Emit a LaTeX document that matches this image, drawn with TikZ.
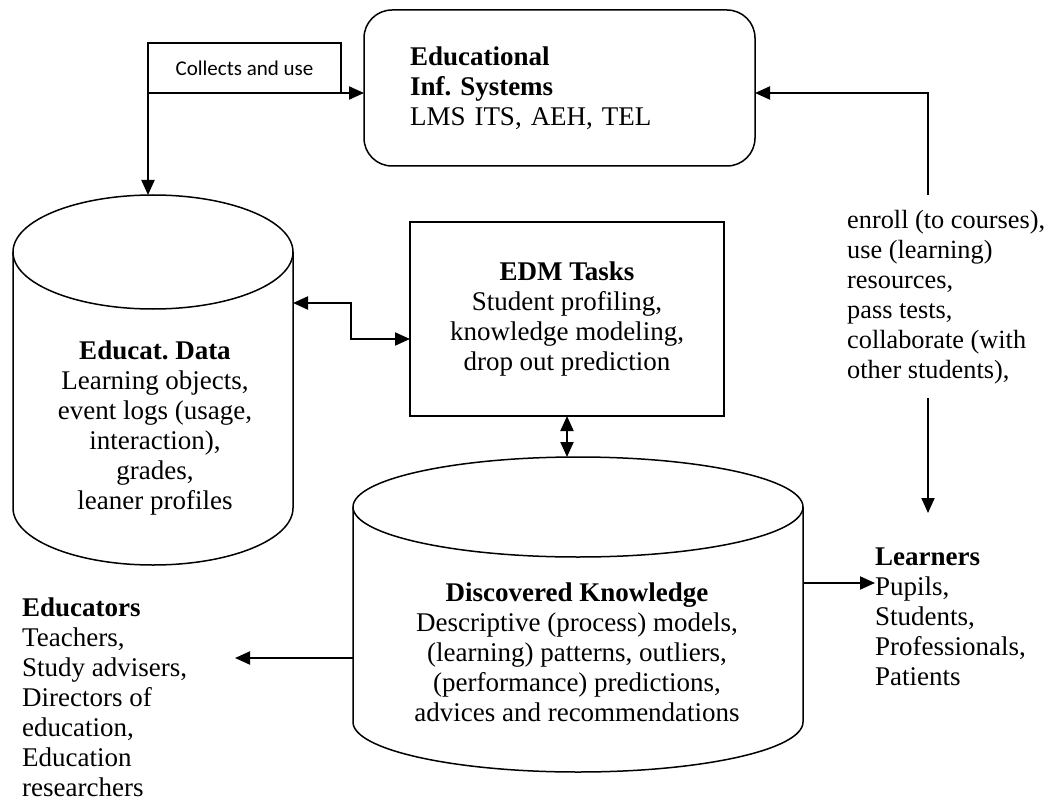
\documentclass[tikz,border=0pt]{standalone}
\usepackage{fontspec}
\setmainfont{Liberation Serif}
\newfontfamily\calibfont{Carlito}
\usetikzlibrary{arrows.meta}
\frenchspacing

\begin{document}
\begin{tikzpicture}[x=1pt,y=-1pt]
		\useasboundingbox (0,0) rectangle (1051,802);
		\begin{scope}[every node/.style={draw,line width=1.5pt,outer sep=0pt,inner sep=0pt,
		              font=\fontsize{27}{30}\selectfont}]
		    \node[minimum width=193pt,minimum height=50pt,
		          font=\calibfont\fontsize{21}{25}\selectfont] (col) at (244.5,68) {Collects and use};
		    \node[rounded corners=28pt,minimum width=391pt,minimum height=156pt,
		          text width=299pt,align=left] (eis) at (559.5,88)
		          {\textbf{Educational}\\\textbf{Inf. Systems}\\LMS ITS, AEH, TEL};
		    \node[minimum width=314pt,minimum height=194pt,align=center] (edm) at (567,319)
		          {\textbf{EDM Tasks}\\Student profiling,\\knowledge modeling,\\drop out prediction};
		\end{scope}

		% the two data stores
		\begin{scope}[line width=1.5pt]
		    \draw (153,252) ellipse[x radius=140,y radius=57];
		    \draw (13,252) -- (13,508) arc[start angle=180,end angle=0,x radius=140,y radius=57] -- (293,252);
		    \draw (578,507) ellipse[x radius=225,y radius=50];
		    \draw (353,507) -- (353,722) arc[start angle=180,end angle=0,x radius=225,y radius=50] -- (803,507);
		\end{scope}
		\coordinate (datatop) at (153,195);
		\coordinate (dataeast) at (293,303);
		\coordinate (knowtop) at (578,457);
		\coordinate (knowwest) at (353,658);
		\coordinate (knoweast) at (803,583);

		\begin{scope}[every node/.style={inner sep=0pt,font=\fontsize{27}{30}\selectfont}]
		    \node[align=center] (datatext) at (155,428)
		          {\textbf{Educat. Data}\\Learning objects,\\event logs (usage,\\interaction),\\grades,\\leaner profiles};
		    \node[align=center] (knowtext) at (577,652)
		          {\textbf{Discovered Knowledge}\\Descriptive (process) models,\\(learning) patterns, outliers,\\(performance) predictions,\\advices and recommendations};
		    \node[align=left,anchor=west,font=\fontsize{26.3}{30}\selectfont] (act) at (847,297)
		          {enroll (to courses),\\use (learning)\\resources,\\pass tests,\\collaborate (with\\other students),};
		    \node[align=left,anchor=west] (edu) at (22,697)
		          {\textbf{Educators}\\Teachers,\\Study advisers,\\Directors of\\education,\\Education\\researchers};
		    \node[align=left,anchor=west] (lrn) at (875,617)
		          {\textbf{Learners}\\Pupils,\\Students,\\Professionals,\\Patients};
		\end{scope}

		\begin{scope}[>={Triangle[length=15pt,width=13pt]},line width=2pt]
		    \coordinate (usetop) at (928,195);
		    \coordinate (usebot) at (928,398);
		    \coordinate (lrnin) at (928,513);
		    \coordinate (eduin) at (235,658);
		    \draw[->] (col.south west) -- (col.south west -| eis.west);
		    \draw[->] (col.south west) -- (col.south west |- datatop);
		    \draw[->] (usetop) |- (eis.east |- col.south);
		    \path (usebot) edge[->] (lrnin);
		    \draw[<->] (dataeast) -- ++(58,0) |- ([yshift=-20pt]edm.west);
		    \path (edm.south) edge[<->] (edm.south |- knowtop);
		    \path (knowwest) edge[->] (eduin);
		    \path (knoweast) edge[->] (knoweast -| lrn.west);
		\end{scope}
\end{tikzpicture}
\end{document}
